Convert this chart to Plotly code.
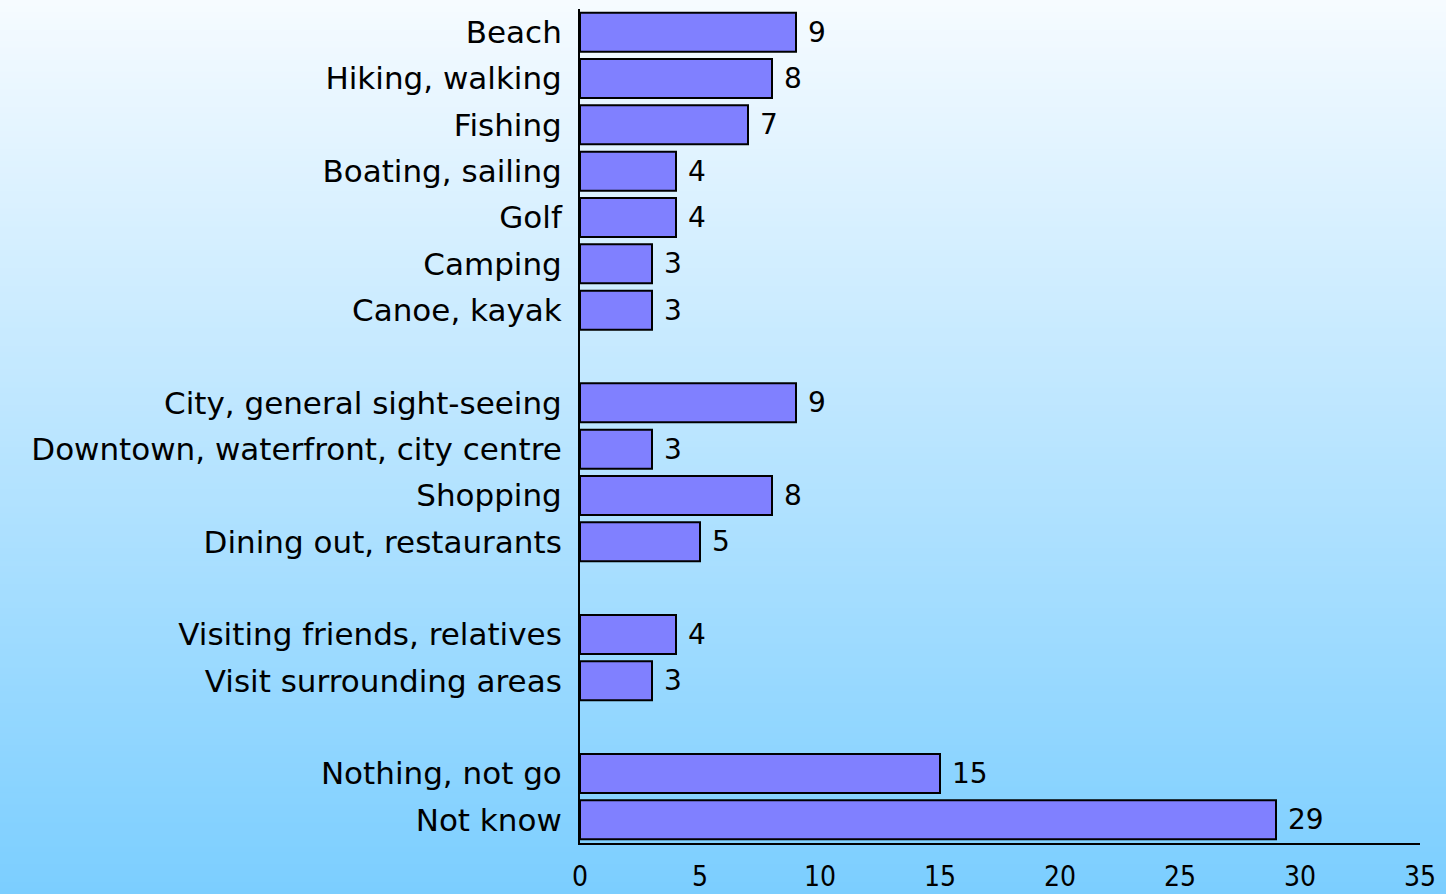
import plotly.graph_objects as go

categories = ["Beach", "Hiking, walking", "Fishing", "Boating, sailing", "Golf", "Camping", "Canoe, kayak",
              " ",
              "City, general sight-seeing", "Downtown, waterfront, city centre", "Shopping", "Dining out, restaurants",
              "  ",
              "Visiting friends, relatives", "Visit surrounding areas",
              "   ",
              "Nothing, not go", "Not know"]
values = [9, 8, 7, 4, 4, 3, 3,
          None,
          9, 3, 8, 5,
          None,
          4, 3,
          None,
          15, 29]
x_ticks = [0, 5, 10, 15, 20, 25, 30, 35]

W, H = 1446, 894
L, R, T, B = 580, 26, 9, 51
pw, ph = W - L - R, H - T - B

top_rgb = (246, 251, 255)
bot_rgb = (123, 206, 255)

shapes = []
n = 150
for i in range(n):
    f0 = i / n
    f1 = (i + 1) / n
    fm = (f0 + f1) / 2
    c = tuple(round(top_rgb[k] + (bot_rgb[k] - top_rgb[k]) * fm) for k in range(3))
    py0 = f0 * H
    py1 = f1 * H + 0.8
    shapes.append(dict(type="rect", xref="paper", yref="paper", layer="below",
                       x0=-L / pw, x1=1 + R / pw,
                       y0=(H - B - py0) / ph, y1=(H - B - py1) / ph,
                       fillcolor="rgb(%d,%d,%d)" % c, line=dict(width=0)))

LABEL_FONT = "DejaVu Sans"

fig = go.Figure(go.Bar(
    x=values, y=categories, orientation="h",
    marker=dict(color="#8080FF", line=dict(color="black", width=2)),
    width=0.84,
    text=[("" if v is None else " " + str(v)) for v in values],
    textposition="outside", cliponaxis=False,
    textfont=dict(family=LABEL_FONT, size=28, color="black"),
))

fig.update_layout(
    width=W, height=H,
    margin=dict(l=L, r=R, t=T, b=B, autoexpand=False),
    paper_bgcolor="rgb(123,206,255)",
    plot_bgcolor="rgba(0,0,0,0)",
    shapes=shapes,
    showlegend=False,
    font=dict(family=LABEL_FONT, color="black"),
)
fig.update_xaxes(range=[0, 35], tickvals=x_ticks, showgrid=False, zeroline=False,
                 showline=True, linecolor="black", linewidth=2, automargin=False,
                 ticks="", tickfont=dict(family="Liberation Sans Narrow, DejaVu Sans Condensed, Liberation Sans", size=28),
                 ticklabelstandoff=7)
fig.update_yaxes(categoryorder="array", categoryarray=categories, autorange="reversed",
                 showgrid=False, zeroline=False, showline=True, linecolor="black", linewidth=2,
                 automargin=False,
                 ticks="", tickfont=dict(size=31), ticklabelstandoff=10)

fig.write_html("out.html", config={"displayModeBar": False},
               post_script="document.body.style.margin='0';document.body.style.padding='0';document.body.style.overflow='hidden';")
